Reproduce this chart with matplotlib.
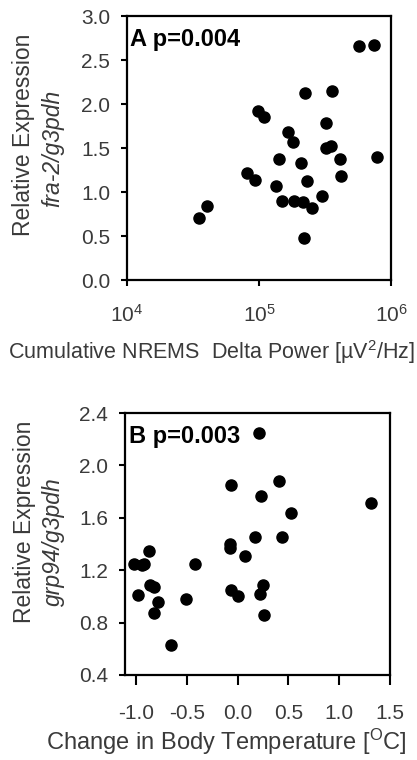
import numpy as np
import matplotlib
matplotlib.use("Agg")
import matplotlib.pyplot as plt
from matplotlib.ticker import FormatStrFormatter, NullLocator

plt.rcParams["font.family"] = ["Liberation Sans", "DejaVu Sans"]
plt.rcParams["mathtext.fontset"] = "custom"
plt.rcParams["mathtext.rm"] = "Liberation Sans"
plt.rcParams["mathtext.it"] = "Liberation Sans:italic"

# Panel A: cumulative NREMS delta power vs fra-2 expression
delta_power = [35200, 40600, 81000, 93700, 97700, 109800, 134700, 142800,
               149700, 167200, 182500, 183500, 208700, 214900, 221300, 230500,
               218800, 251800, 301900, 320100, 323700, 353300, 359500, 409000,
               421000, 573700, 742700, 778000]
fra2_expr = [0.70, 0.84, 1.22, 1.14, 1.92, 1.85, 1.07, 1.37,
             0.90, 1.68, 1.57, 0.90, 1.33, 0.89, 2.12, 1.13,
             0.48, 0.82, 0.95, 1.78, 1.50, 1.52, 2.15, 1.37,
             1.18, 2.66, 2.67, 1.40]

# Panel B: change in body temperature vs grp94 expression
temp_change = [0.214, -0.070, 0.408, 0.233, 0.524, 1.315, 0.168, 0.441,
               -0.077, -0.077, 0.069, -0.878, -1.026, -0.944, -0.918, -0.423,
               -0.861, -0.828, -0.983, -0.786, -0.828, -0.505, -0.654, -0.070,
               0.003, 0.247, 0.217, 0.260]
grp94_expr = [2.25, 1.85, 1.88, 1.77, 1.64, 1.71, 1.45, 1.45,
              1.40, 1.37, 1.31, 1.35, 1.25, 1.24, 1.25, 1.25,
              1.09, 1.07, 1.01, 0.96, 0.87, 0.98, 0.63, 1.05,
              1.00, 1.09, 1.02, 0.86]

W, H = 417, 760
fig = plt.figure(figsize=(W / 100, H / 100), dpi=100)
txt = "#3a3a3a"


def make_axes(left, top, right, bottom):
    ax = fig.add_axes([left / W, 1 - bottom / H, (right - left) / W, (bottom - top) / H])
    for s in ax.spines.values():
        s.set_linewidth(1.6)
    ax.tick_params(direction="out", width=1.5, labelsize=15, labelcolor=txt)
    ax.tick_params(axis="y", length=4, pad=8)
    return ax


# ---- A ----
axA = make_axes(127, 16, 391, 280)
axA.plot(delta_power, fra2_expr, "o", color="black", markersize=8)
axA.set_xscale("log")
axA.set_xlim(1e4, 1e6)
axA.set_ylim(0, 3.0)
axA.set_xticks([1e4, 1e5, 1e6])
axA.xaxis.set_minor_locator(NullLocator())
axA.tick_params(axis="x", length=4, pad=13)
axA.set_yticks(np.arange(0, 3.01, 0.5))
axA.yaxis.set_major_formatter(FormatStrFormatter("%.1f"))
axA.text(0.012, 0.955, "A p=0.004", transform=axA.transAxes, fontsize=17,
         fontweight="bold", va="top", ha="left")
fig.text(24 / W, 1 - 135 / H, "Relative Expression", rotation=90,
         ha="center", va="center", fontsize=16.5, color=txt)
fig.text(53 / W, 1 - 148 / H, "fra-2/g3pdh", rotation=90, style="italic",
         ha="center", va="center", fontsize=16.5, color=txt)
fig.text(211 / W, 1 - 352 / H, "Cumulative NREMS  Delta Power [µV$^2$/Hz]",
         ha="center", va="center", fontsize=15.5, color=txt)

# ---- B ----
axB = make_axes(125, 413, 390, 675)
axB.plot(temp_change, grp94_expr, "o", color="black", markersize=8)
axB.set_xlim(-1.11, 1.5)
axB.set_ylim(0.4, 2.4)
axB.set_xticks(np.arange(-1.0, 1.51, 0.5))
axB.set_yticks(np.arange(0.4, 2.41, 0.4))
axB.tick_params(axis="x", length=7, pad=14)
axB.xaxis.set_major_formatter(FormatStrFormatter("%.1f"))
axB.yaxis.set_major_formatter(FormatStrFormatter("%.1f"))
axB.text(0.015, 0.955, "B p=0.003", transform=axB.transAxes, fontsize=17,
         fontweight="bold", va="top", ha="left")
fig.text(25 / W, 1 - 522 / H, "Relative Expression", rotation=90,
         ha="center", va="center", fontsize=16.5, color=txt)
fig.text(53 / W, 1 - 542 / H, "grp94/g3pdh", rotation=90, style="italic",
         ha="center", va="center", fontsize=16.5, color=txt)
fig.text(226 / W, 1 - 742 / H, "Change in Body Temperature [$^{\\rm O}$C]",
         ha="center", va="center", fontsize=17, color=txt)

fig.savefig("out.png", dpi=100)
